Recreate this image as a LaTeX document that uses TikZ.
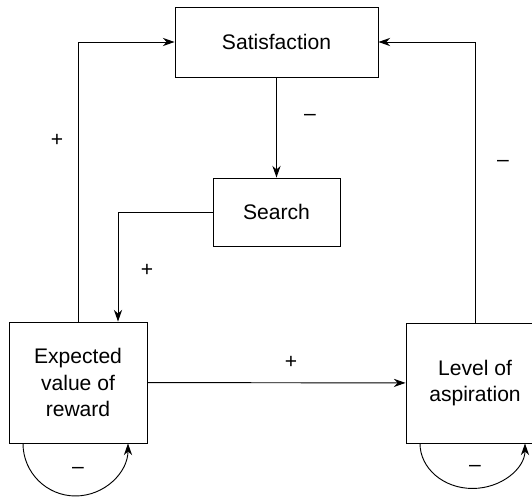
\documentclass[tikz,border=0pt]{standalone}
\usepackage{fontspec}
\setmainfont{Liberation Sans}
\usetikzlibrary{arrows.meta}

\begin{document}
\begin{tikzpicture}[x=0.03cm, y=0.03cm,
  box/.style={draw, line width=0.8pt, align=center, inner sep=0pt,
    font=\fontsize{18}{22.7}\selectfont},
  sign/.style={font=\fontsize{18}{22}\selectfont},
  link/.style={line width=0.8pt, -{Stealth[length=10pt, width=7pt]}}]

\useasboundingbox (0,0) rectangle (532,499);

\node[box, minimum width=6.09cm, minimum height=2.1cm] (sat) at (276.5,457) {Satisfaction};
\node[box, minimum width=3.81cm, minimum height=2.04cm] (srch) at (276.5,287) {Search};
\node[box, minimum width=4.14cm, minimum height=3.63cm] (exp) at (78,116.5) {Expected\\value of\\reward};
\node[box, minimum width=4.14cm, minimum height=3.6cm] (asp) at (475,116) {Level of\\aspiration};

\draw[link] (sat) -- (srch);
\draw[link] (exp.north) |- (sat.west);
\draw[link] (srch.west) -| ([xshift=1.2cm]exp.north);
\draw[link] (asp.north) |- (sat.east);
\draw[link] (exp) -- (asp);
\draw[link] ([xshift=-1.65cm]exp.south) arc[start angle=180, end angle=360, radius=52.5];
\draw[link] ([xshift=-1.65cm]asp.south) arc[start angle=180, end angle=360, x radius=52.5, y radius=45];

\node[sign] (s1) at (57,359) {+};
\node[sign] (s2) at (310,382) {--};
\node[sign] (s3) at (503,336) {--};
\node[sign] (s4) at (147,229) {+};
\node[sign] (s5) at (291,137) {+};
\node[sign] (s6) at (78,29) {--};
\node[sign] (s7) at (475,31) {--};

\end{tikzpicture}
\end{document}
